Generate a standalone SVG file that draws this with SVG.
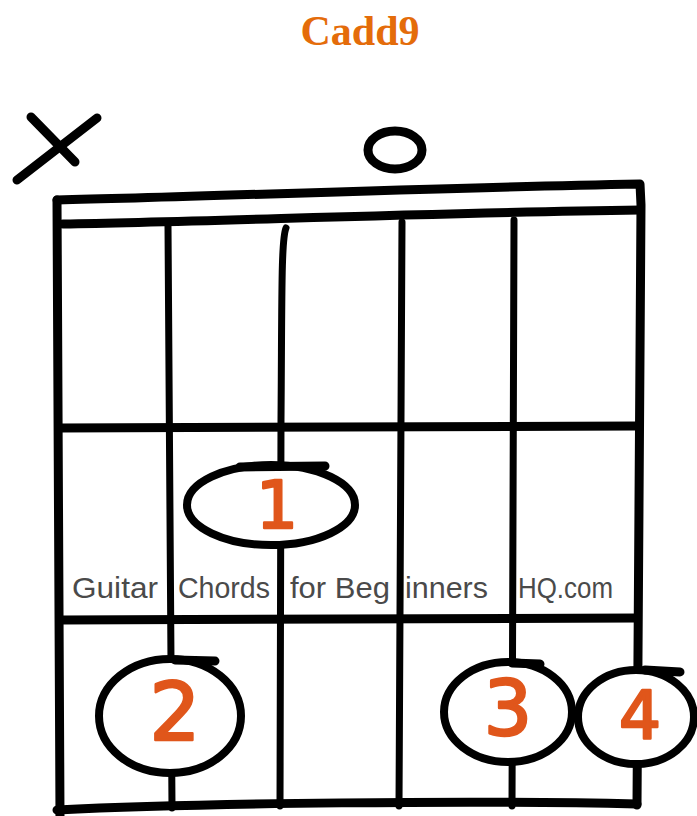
<svg xmlns="http://www.w3.org/2000/svg" width="697" height="816" viewBox="0 0 697 816">
<style>
.ink{fill:none;stroke:#000;stroke-width:9;stroke-linecap:round;stroke-linejoin:round}
.str{fill:none;stroke:#000;stroke-width:7;stroke-linecap:round}
.dot{fill:#fff;stroke:#000;stroke-width:8}
.num{fill:#E0561B;stroke:#E0561B;stroke-width:2.5;stroke-linejoin:round;font-family:"DejaVu Sans",sans-serif;text-anchor:middle}
.wm{fill:#4a4a4a;font-family:"Liberation Sans",sans-serif;font-size:29px}
.title{fill:#E46C0A;font-family:"Liberation Serif",serif;font-weight:bold;font-size:42px;text-anchor:middle}
</style>
<rect width="697" height="816" fill="#fff"/>
<text class="title" x="360" y="45">Cadd9</text>
<g id="markers">
<path class="ink" d="M17,180 L97,118"/>
<path class="ink" d="M31,117 L75,162"/>
<ellipse class="ink" cx="395" cy="150" rx="27" ry="19"/>
</g>
<g id="frame">
<path class="ink" d="M57,200 C200,197 420,188 640,184 L641,205 L637,805"/>
<path class="ink" d="M57,200 L60,816"/>
<path class="ink" d="M63,224 C200,222 420,213 640,210"/>
<path class="ink" d="M60,428 L637,426"/>
<path class="ink" d="M62,620 L637,618"/>
<path class="ink" d="M57,810 C200,803 480,800 637,804"/>
</g>
<g id="strings">
<path class="str" d="M168,226 L172,808"/>
<path class="str" d="M286,228 C281,240 282,300 281,420 L280,806"/>
<path class="str" d="M402,222 L399,806"/>
<path class="str" d="M514,220 L512,806"/>
</g>
<g id="watermark">
<text class="wm" x="72" y="598" textLength="86" lengthAdjust="spacingAndGlyphs">Guitar</text>
<text class="wm" x="178" y="598" textLength="92" lengthAdjust="spacingAndGlyphs">Chords</text>
<text class="wm" x="290" y="598" textLength="100" lengthAdjust="spacingAndGlyphs">for Beg</text>
<text class="wm" x="405" y="598" textLength="83" lengthAdjust="spacingAndGlyphs">inners</text>
<text class="wm" x="518" y="598" textLength="95" lengthAdjust="spacingAndGlyphs">HQ.com</text>
</g>
<g id="finger1">
<ellipse class="dot" cx="271" cy="505" rx="84" ry="40"/>
<path class="ink" d="M240,467 L325,466"/>
<text class="num" x="277" y="528" font-size="66">1</text>
</g>
<g id="finger2">
<ellipse class="dot" cx="170" cy="716" rx="71" ry="57"/>
<path class="ink" d="M175,660 L215,661"/>
<text class="num" x="175" y="740" font-size="80">2</text>
</g>
<g id="finger3">
<ellipse class="dot" cx="508" cy="712" rx="64" ry="50"/>
<path class="ink" d="M512,663 L540,664"/>
<text class="num" x="508" y="735" font-size="76">3</text>
</g>
<g id="finger4">
<ellipse class="dot" cx="636" cy="717" rx="58" ry="47"/>
<path class="ink" d="M645,670 L680,672"/>
<text class="num" x="640" y="738" font-size="66">4</text>
</g>
</svg>
